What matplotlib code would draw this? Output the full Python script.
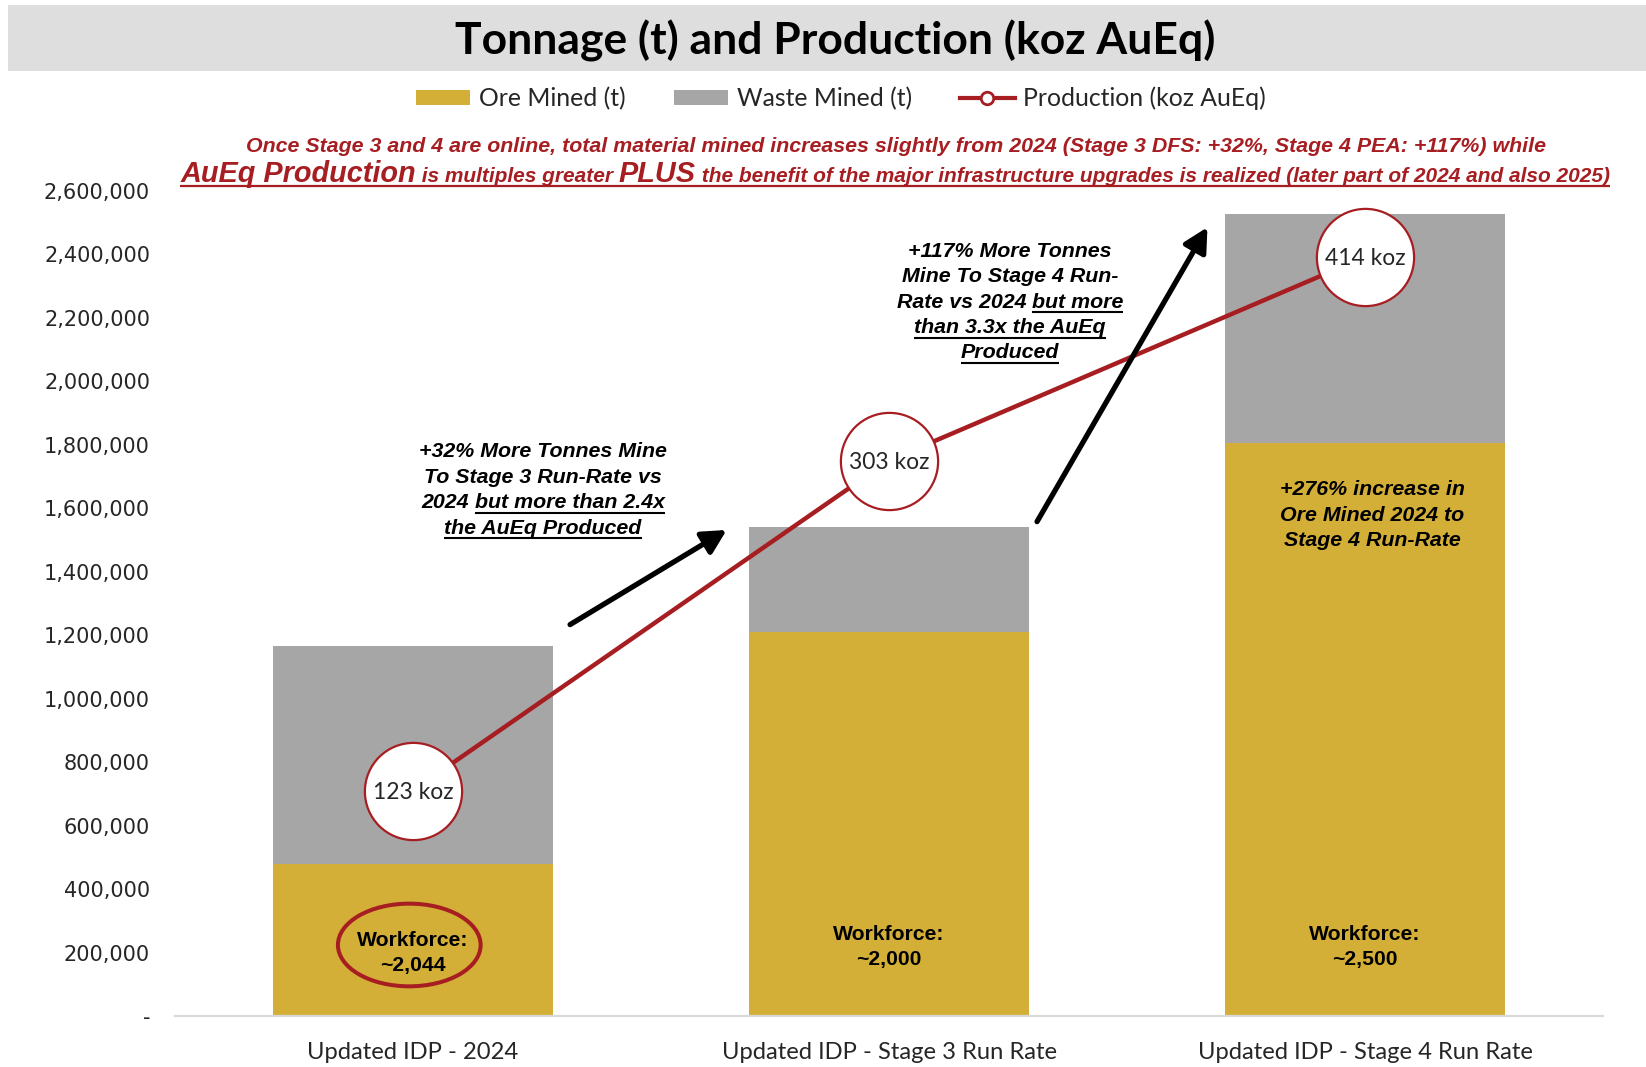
import matplotlib
matplotlib.use("Agg")
import matplotlib.pyplot as plt
from matplotlib.patches import Rectangle, Ellipse, Patch
from matplotlib.lines import Line2D
from matplotlib.transforms import IdentityTransform
from matplotlib.ticker import FuncFormatter
import numpy as np

# ---------------- data ----------------
categories = ["Updated IDP - 2024", "Updated IDP - Stage 3 Run Rate", "Updated IDP - Stage 4 Run Rate"]
ore_mined_t = [480000, 1210000, 1806000]
waste_mined_t = [685000, 330000, 722000]
production_koz = [123, 303, 414]
production_labels = ["123 koz", "303 koz", "414 koz"]
workforce_labels = [("Workforce:", "~2,044"), ("Workforce:", "~2,000"), ("Workforce:", "~2,500")]
y_tick_values = list(range(0, 2600001, 200000))
legend_labels = ["Ore Mined (t)", "Waste Mined (t)", "Production (koz AuEq)"]
title = "Tonnage (t) and Production (koz AuEq)"

ORE = "#D4AF37"
WASTE = "#A6A6A6"
RED = "#A71E22"
BAND = "#DEDEDE"
DARK = "#262626"

W, H, DPI = 1646, 1067, 100
fig = plt.figure(figsize=(W / DPI, H / DPI), dpi=DPI)
fig.patch.set_facecolor("white")
renderer = fig.canvas.get_renderer()
PIX = IdentityTransform()


def text_width(s, **kw):
    t = fig.text(0, 0, "|" + s + "|", **kw)
    w1 = t.get_window_extent(renderer).width
    t.set_text("||")
    w0 = t.get_window_extent(renderer).width
    t.remove()
    return w1 - w0


def fit_size(s, target, **kw):
    return 10.0 * target / text_width(s, fontsize=10, **kw)


def rich_line(xc, y_base_top, segs, color="black", ul_off=4, ul_lw=1.5, zorder=6):
    widths = [text_width(s, **kw) for s, kw, _ in segs]
    x = xc - sum(widths) / 2.0
    yb = H - y_base_top
    for (s, kw, ul), w in zip(segs, widths):
        fig.text(x, yb, s, transform=PIX, ha="left", va="baseline", color=color, zorder=zorder, **kw)
        if ul:
            fig.add_artist(Line2D([x, x + w], [yb - ul_off] * 2, transform=PIX,
                                  color=color, lw=ul_lw, solid_capstyle="butt", zorder=zorder))
        x += w


# ---------------- title band ----------------
fig.add_artist(Rectangle((8, H - 71.4), W - 8, 71.4 - 5.25, transform=PIX,
                         facecolor=BAND, edgecolor="none", zorder=0))
tkw = dict(family="Lato", weight="bold")
fig.text(835, H - 55, title, transform=PIX, ha="center", va="baseline", color="black",
         fontsize=fit_size(title, 761, **tkw), **tkw)

# ---------------- axes ----------------
ax = fig.add_axes([175 / W, 1 - 1016 / H, (1603 - 175) / W, (1016 - 191) / H])
x = np.arange(len(categories))
bw = 0.589
ax.bar(x, ore_mined_t, bw, color=ORE, zorder=2)
ax.bar(x, waste_mined_t, bw, bottom=ore_mined_t, color=WASTE, zorder=2)
ax.set_xlim(-0.5, 2.5)
ax.set_ylim(0, 2600000)
ax.set_yticks(y_tick_values)
ax.yaxis.set_major_formatter(FuncFormatter(lambda v, p: "-" if v == 0 else f"{v:,.0f}"))
ax.set_xticks(x)
ax.set_xticklabels(categories)
for s in ["top", "right", "left"]:
    ax.spines[s].set_visible(False)
ax.spines["bottom"].set_color("#D9D9D9")
ax.spines["bottom"].set_linewidth(1.6)
ax.tick_params(axis="y", length=0, pad=18, labelsize=15, labelcolor=DARK)
ax.tick_params(axis="x", length=0, pad=19, labelcolor=DARK)
for lab in ax.get_yticklabels():
    lab.set_family("DejaVu Sans")
xfs = fit_size(categories[0], 211, family="Lato")
for lab in ax.get_xticklabels():
    lab.set_family("Lato")
    lab.set_fontsize(xfs)

# workforce ellipse
ax.add_patch(Ellipse((-0.0078, 223800), 0.2998, 260600, fill=False, ec=RED, lw=2.9, zorder=4))

# production line on secondary axis
ax2 = ax.twinx()
ax2.set_ylim(0, 450)
ax2.set_axis_off()
ax2.plot(x, production_koz, color=RED, lw=3.2, marker="o", ms=70, mfc="white", mec=RED,
         mew=1.6, zorder=3, clip_on=False)
pfs = fit_size("123 koz", 81, family="Lato")
for xi, v, lab in zip(x, production_koz, production_labels):
    ax2.annotate(lab, (xi, v), xytext=(0, -6), textcoords="offset points", ha="center",
                 va="baseline", family="Lato", fontsize=pfs, color=DARK, zorder=5)

# arrows (on top of red line)
arrow_kw = dict(arrowstyle="-|>,head_length=0.8,head_width=0.42", lw=3.8, color="black",
                mutation_scale=18, shrinkA=0, shrinkB=0)
ax2.annotate("", xy=(0.659, 1531700), xytext=(0.330, 1233500),
             xycoords=ax.transData, textcoords=ax.transData, arrowprops=arrow_kw, zorder=6)
ax2.annotate("", xy=(1.669, 2485700), xytext=(1.311, 1558000),
             xycoords=ax.transData, textcoords=ax.transData, arrowprops=arrow_kw, zorder=6)

# ---------------- legend ----------------
handles = [Patch(facecolor=ORE), Patch(facecolor=WASTE),
           Line2D([], [], color=RED, lw=3, marker="o", ms=9, mfc="white", mec=RED, mew=2)]
leg = fig.legend(handles, legend_labels, loc="center", bbox_to_anchor=(841 / W, 1 - 98.5 / H),
                 ncol=3, frameon=False, prop=dict(family="Lato", size=17.8),
                 handlelength=2.2, handleheight=0.6, handletextpad=0.35, columnspacing=1.95)
for t in leg.get_texts():
    t.set_color(DARK)

# ---------------- red subtitle ----------------
rkw = dict(family="Liberation Sans", weight="bold", style="italic")
line1 = "Once Stage 3 and 4 are online, total material mined increases slightly from 2024 (Stage 3 DFS: +32%, Stage 4 PEA: +117%) while"
r1 = fit_size(line1, 1305, **rkw)
rich_line(896, 152, [(line1, dict(fontsize=r1, **rkw), False)], color=RED)

segs2 = [("AuEq Production", 1.38), (" is multiples greater ", 1.0), ("PLUS", 1.38),
         (" the benefit of the major infrastructure upgrades is realized (later part of 2024 and also 2025)", 1.0)]
w10 = sum(text_width(s, fontsize=10 * k, **rkw) for s, k in segs2)
base = 10 * 1434 / w10
rich_line(895, 182, [(s, dict(fontsize=base * k, **rkw), True) for s, k in segs2],
          color=RED, ul_off=4, ul_lw=1.6)

# ---------------- annotations ----------------
akw = dict(family="Liberation Sans", weight="bold", style="italic")
afs = fit_size("+32% More Tonnes Mine", 248, **akw)
A = dict(fontsize=afs, **akw)
block1 = [[("+32% More Tonnes Mine", A, False)],
          [("To Stage 3 Run-Rate vs", A, False)],
          [("2024 ", A, False), ("but more than 2.4x", A, True)],
          [("the AuEq Produced", A, True)]]
for segs, yb in zip(block1, [457, 483, 508.5, 533.5]):
    rich_line(543, yb, segs, ul_off=4.5, ul_lw=1.5)

block2 = [[("+117% More Tonnes", A, False)],
          [("Mine To Stage 4 Run-", A, False)],
          [("Rate vs 2024 ", A, False), ("but more", A, True)],
          [("than 3.3x the AuEq", A, True)],
          [("Produced", A, True)]]
for segs, yb in zip(block2, [257, 282.5, 307.5, 333, 358.5]):
    rich_line(1010, yb, segs, ul_off=4.5, ul_lw=1.5)

block3 = [[("+276% increase in", A, False)],
          [("Ore Mined 2024 to", A, False)],
          [("Stage 4 Run-Rate", A, False)]]
for segs, yb in zip(block3, [495, 521, 546.5]):
    rich_line(1372, yb, segs)

wkw = dict(family="Liberation Sans", weight="bold")
wfs = fit_size("Workforce:", 111, **wkw)
WK = dict(fontsize=wfs, **wkw)
wf_baselines = [(946.5, 971.5), (939.5, 964.5), (939.5, 964.5)]
for i, ((l1, l2), (b1, b2)) in enumerate(zip(workforce_labels, wf_baselines)):
    xc = ax.transData.transform((i, 0))[0]
    rich_line(xc, b1, [(l1, WK, False)])
    rich_line(xc, b2, [(l2, WK, False)])

fig.savefig("out.png", dpi=DPI)
